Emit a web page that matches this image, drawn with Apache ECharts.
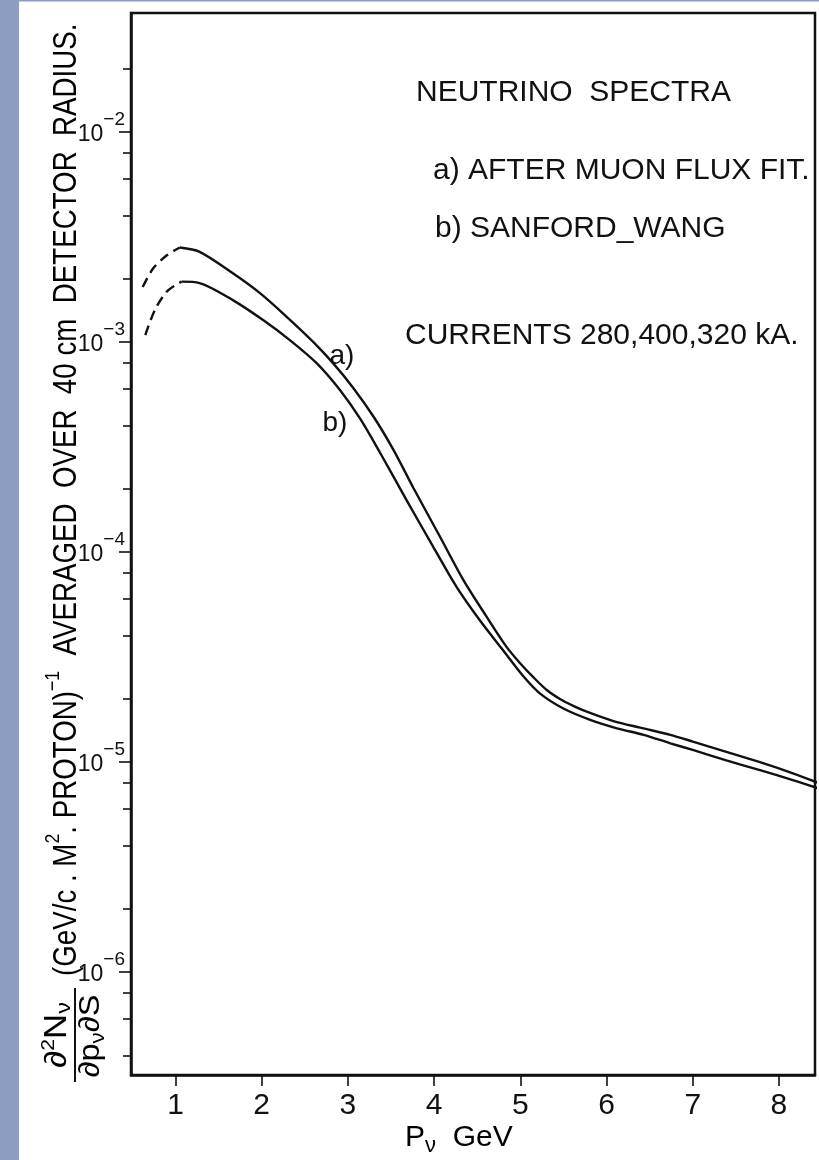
<!DOCTYPE html>
<html>
<head>
<meta charset="utf-8">
<script src="https://cdn.jsdelivr.net/npm/echarts@6.0.0/dist/echarts.min.js"></script>
<style>
html, body { margin: 0; padding: 0; background: #fff; }
#chart { width: 819px; height: 1160px; }
</style>
</head>
<body>
<div id="chart"></div>
<script>
// neutrino momentum (GeV/c) and flux
const aExtrapP = [0.62, 0.74, 0.90, 1.05];
const aExtrapN = [1.83e-3, 2.24e-3, 2.59e-3, 2.82e-3];
const aP = [1.05, 1.28, 1.67, 1.98, 2.29, 2.60, 2.83, 3.06, 3.30, 3.53, 3.76, 4.07, 4.34, 4.61, 4.84, 5.00, 5.15, 5.31, 5.46, 5.62, 5.77, 6.08, 6.39, 6.74, 7.01, 7.39, 7.78, 8.17, 8.46];
const aN = [2.82e-3, 2.69e-3, 2.12e-3, 1.71e-3, 1.32e-3, 1.00e-3, 7.92e-4, 6.07e-4, 4.40e-4, 3.06e-4, 2.02e-4, 1.18e-4, 7.36e-5, 4.92e-5, 3.54e-5, 2.95e-5, 2.54e-5, 2.20e-5, 2.00e-5, 1.85e-5, 1.74e-5, 1.57e-5, 1.46e-5, 1.35e-5, 1.25e-5, 1.12e-5, 1.00e-5, 8.83e-6, 7.96e-6];

const bExtrapP = [0.65, 0.76, 0.90, 1.07];
const bExtrapN = [1.08e-3, 1.42e-3, 1.74e-3, 1.94e-3];
const bP = [1.07, 1.28, 1.67, 2.02, 2.33, 2.64, 2.91, 3.14, 3.37, 3.68, 3.99, 4.26, 4.53, 4.80, 5.04, 5.23, 5.50, 5.81, 6.12, 6.43, 6.74, 7.01, 7.39, 7.78, 8.17, 8.46];
const bN = [1.94e-3, 1.91e-3, 1.58e-3, 1.27e-3, 1.02e-3, 7.92e-4, 5.90e-4, 4.33e-4, 2.99e-4, 1.77e-4, 1.06e-4, 6.84e-5, 4.74e-5, 3.41e-5, 2.55e-5, 2.12e-5, 1.80e-5, 1.59e-5, 1.45e-5, 1.35e-5, 1.23e-5, 1.14e-5, 1.02e-5, 9.16e-6, 8.20e-6, 7.50e-6];

const xTicks = [1, 2, 3, 4, 5, 6, 7, 8];
const yDecades = [1e-6, 1e-5, 1e-4, 1e-3, 1e-2];
const yMinorSteps = [2, 4, 6, 8];
const yMinor = [1e-7, 1e-6, 1e-5, 1e-4, 1e-3, 1e-2]
    .flatMap(d => yMinorSteps.map(m => +(d * m).toPrecision(3)));

const X_MIN = 0.484, X_MAX = 8.418;
const Y_MIN = 3.24e-7, Y_MAX = 0.0369;

const SANS = '"Liberation Sans", Arial, sans-serif';

const pairs = (xs, ys) => xs.map((x, i) => [x, ys[i]]);

const chart = echarts.init(document.getElementById('chart'));

function curve(name, data, dashed) {
    return {
        name: name,
        type: 'line',
        data: data,
        smooth: 0.3,
        symbol: 'none',
        clip: true,
        silent: true,
        lineStyle: {
            color: '#111',
            width: 2.4,
            type: dashed ? [10, 6] : 'solid'
        }
    };
}

const rot = Math.PI / 2;

const option = {
    animation: false,
    backgroundColor: '#fff',
    grid: {
        left: 131, top: 13, right: 4, bottom: 85,
        show: true,
        borderColor: '#111',
        borderWidth: 2.5
    },
    xAxis: {
        type: 'value',
        min: X_MIN,
        max: X_MAX,
        splitLine: { show: false },
        axisLine: { lineStyle: { color: '#111', width: 2.5 } },
        axisTick: {
            customValues: xTicks,
            length: 11,
            lineStyle: { color: '#111', width: 1.6 }
        },
        axisLabel: {
            customValues: xTicks,
            margin: 16,
            fontSize: 30,
            fontFamily: SANS,
            color: '#111'
        }
    },
    yAxis: [
        {
            type: 'log',
            logBase: 10,
            min: Y_MIN,
            max: Y_MAX,
            splitLine: { show: false },
            axisLine: { lineStyle: { color: '#111', width: 2.5 } },
            axisTick: {
                customValues: yDecades,
                length: 12,
                lineStyle: { color: '#111', width: 1.6 }
            },
            axisLabel: {
                customValues: yDecades,
                margin: 6,
                padding: [0, 0, 8, 0],
                formatter: function (v) {
                    const e = Math.round(-Math.log10(v));
                    return '{b|10}{s|\u2212' + e + '}';
                },
                rich: {
                    b: { fontSize: 23, fontFamily: SANS, color: '#111', lineHeight: 36, verticalAlign: 'bottom' },
                    s: { fontSize: 19, fontFamily: SANS, color: '#111', lineHeight: 19, verticalAlign: 'top' }
                }
            }
        },
        {
            type: 'log',
            logBase: 10,
            min: Y_MIN,
            max: Y_MAX,
            position: 'left',
            splitLine: { show: false },
            axisLine: { show: false },
            axisLabel: { show: false },
            axisTick: {
                customValues: yMinor,
                length: 8,
                lineStyle: { color: '#111', width: 1.6 }
            }
        }
    ],
    series: [
        curve('a extrapolated', pairs(aExtrapP, aExtrapN), true),
        curve('a) after muon flux fit', pairs(aP, aN), false),
        curve('b extrapolated', pairs(bExtrapP, bExtrapN), true),
        curve('b) Sanford-Wang', pairs(bP, bN), false)
    ],
    graphic: [
        { type: 'rect', shape: { x: 0, y: 0, width: 19, height: 1160 }, style: { fill: '#8c9dc0' } },
        { type: 'rect', shape: { x: 0, y: 0, width: 819, height: 1.5 }, style: { fill: '#8c9dc0' } },
        { type: 'text', x: 416, y: 93, style: { text: 'NEUTRINO  SPECTRA', font: '30px ' + SANS, fill: '#111', textVerticalAlign: 'middle' } },
        { type: 'text', x: 433, y: 171, style: { text: 'a) AFTER MUON FLUX FIT.', font: '30px ' + SANS, fill: '#111', textVerticalAlign: 'middle' } },
        { type: 'text', x: 435, y: 229, style: { text: 'b) SANFORD_WANG', font: '30px ' + SANS, fill: '#111', textVerticalAlign: 'middle' } },
        { type: 'text', x: 405, y: 336, style: { text: 'CURRENTS 280,400,320 kA.', font: '30px ' + SANS, fill: '#111', textVerticalAlign: 'middle' } },
        { type: 'text', x: 342, y: 356, style: { text: 'a)', font: '28px ' + SANS, fill: '#111', textAlign: 'center', textVerticalAlign: 'middle' } },
        { type: 'text', x: 335, y: 423, style: { text: 'b)', font: '28px ' + SANS, fill: '#111', textAlign: 'center', textVerticalAlign: 'middle' } },
        // x axis title
        {
            type: 'text', x: 405, y: 1140,
            style: {
                text: '{p|P}{n|\u03bd}{g|  GeV}',
                textVerticalAlign: 'middle',
                rich: {
                    p: { fontSize: 30, fontFamily: SANS, color: '#111', lineHeight: 34, verticalAlign: 'top' },
                    n: { fontSize: 22, fontFamily: SANS, color: '#111', lineHeight: 22, verticalAlign: 'bottom' },
                    g: { fontSize: 30, fontFamily: SANS, color: '#111', lineHeight: 34, verticalAlign: 'top' }
                }
            }
        },
        // y axis title, rotated
        {
            type: 'text', x: 57, y: 1035, rotation: rot, scaleX: 1.12,
            style: {
                text: '{d|\u2202}{s|2}{d|N}{u|\u03bd}',
                textAlign: 'center', textVerticalAlign: 'middle',
                rich: {
                    d: { fontSize: 31, fontFamily: SANS, color: '#111', lineHeight: 36, verticalAlign: 'middle' },
                    s: { fontSize: 19, fontFamily: SANS, color: '#111', lineHeight: 19, verticalAlign: 'top' },
                    u: { fontSize: 21, fontFamily: SANS, color: '#111', lineHeight: 20, verticalAlign: 'bottom' }
                }
            }
        },
        { type: 'line', shape: { x1: 75, y1: 1082, x2: 75, y2: 988 }, style: { stroke: '#111', lineWidth: 2 } },
        {
            type: 'text', x: 91, y: 1036, rotation: rot, scaleX: 1.12,
            style: {
                text: '{d|\u2202p}{u|\u03bd}{d|\u2202S}',
                textAlign: 'center', textVerticalAlign: 'middle',
                rich: {
                    d: { fontSize: 29, fontFamily: SANS, color: '#111', lineHeight: 34, verticalAlign: 'middle' },
                    u: { fontSize: 20, fontFamily: SANS, color: '#111', lineHeight: 20, verticalAlign: 'bottom' }
                }
            }
        },
        {
            type: 'text', x: 63, y: 976, rotation: rot, scaleX: 0.84,
            style: {
                text: '{t|(GeV/c . M}{s|2}{t|. PROTON)}{s|\u22121}{t|  AVERAGED  OVER  40 cm  DETECTOR  RADIUS.}',
                textAlign: 'left', textVerticalAlign: 'middle',
                rich: {
                    t: { fontSize: 33, fontFamily: SANS, color: '#111', lineHeight: 40, verticalAlign: 'bottom' },
                    s: { fontSize: 21, fontFamily: SANS, color: '#111', lineHeight: 21, verticalAlign: 'top' }
                }
            }
        }
    ]
};

chart.setOption(option);
</script>
</body>
</html>
